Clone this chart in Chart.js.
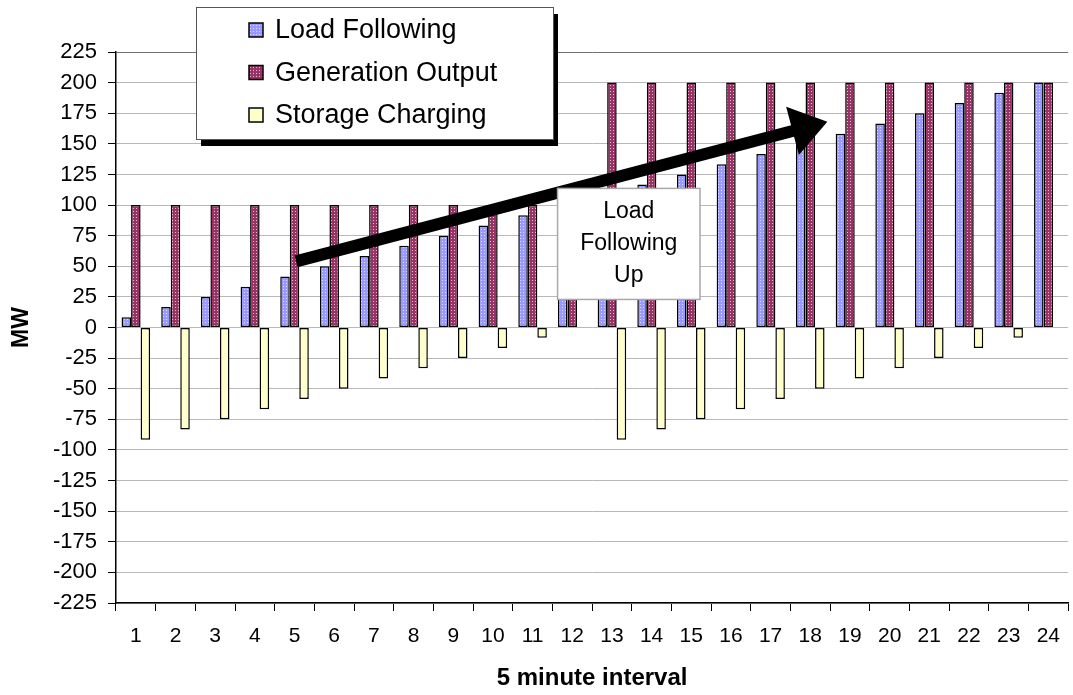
<!DOCTYPE html>
<html>
<head>
<meta charset="utf-8">
<script src="https://cdn.jsdelivr.net/npm/chart.js@4.4.1/dist/chart.umd.min.js"></script>
<style>
  html, body { margin: 0; padding: 0; background: #fff; }
  #wrap { width: 1073px; height: 695px; position: relative; }
</style>
</head>
<body>
<div id="wrap"><canvas id="chart" width="1073" height="695"></canvas></div>
<script>
const intervals = ['1','2','3','4','5','6','7','8','9','10','11','12','13','14','15','16','17','18','19','20','21','22','23','24']
const loadFollowing = [8.3, 16.7, 25, 33.3, 41.7, 50, 58.3, 66.7, 75, 83.3, 91.7, 100, 108.3, 116.7, 125, 133.3, 141.7, 150, 158.3, 166.7, 175, 183.3, 191.7, 200]
const generationOutput = [100, 100, 100, 100, 100, 100, 100, 100, 100, 100, 100, 100, 200, 200, 200, 200, 200, 200, 200, 200, 200, 200, 200, 200]
const storageCharging = [-91.7, -83.3, -75, -66.7, -58.3, -50, -41.7, -33.3, -25, -16.7, -8.3, 0, -91.7, -83.3, -75, -66.7, -58.3, -50, -41.7, -33.3, -25, -16.7, -8.3, 0]

// callout arrow and text box, in data units (category index, MW)
const arrowFrom = { x: 4.04, y: 54 }
const arrowTo = { x: 17.43, y: 168 }
const noteBox = { x1: 10.63, x2: 14.22, top: 113.6, bottom: 22.9 }
const noteLines = ['Load', 'Following', 'Up']

const FONT = "'Liberation Sans', Arial, sans-serif"

const ctx = document.getElementById('chart').getContext('2d')

function dotted(base, dot) {
  const c = document.createElement('canvas')
  c.width = 3
  c.height = 3
  const g = c.getContext('2d')
  g.fillStyle = base
  g.fillRect(0, 0, 3, 3)
  g.fillStyle = dot
  g.fillRect(1, 1, 1, 1)
  return ctx.createPattern(c, 'repeat')
}

const bluePattern = dotted('#9999ff', '#dcdcff')
const redPattern = dotted('#993366', '#e8b8d0')

const overlays = {
  id: 'overlays',
  afterDatasetsDraw(chart) {
    const g = chart.ctx
    const xs = chart.scales.x
    const ys = chart.scales.y

    // arrow
    const x0 = xs.getPixelForValue(arrowFrom.x), y0 = ys.getPixelForValue(arrowFrom.y)
    const x1 = xs.getPixelForValue(arrowTo.x), y1 = ys.getPixelForValue(arrowTo.y)
    const len = Math.hypot(x1 - x0, y1 - y0)
    const ux = (x1 - x0) / len, uy = (y1 - y0) / len
    const headLen = 36, headHalf = 25
    const bx = x1 - ux * headLen, by = y1 - uy * headLen
    g.save()
    g.strokeStyle = '#000'
    g.lineWidth = 12
    g.beginPath()
    g.moveTo(x0, y0)
    g.lineTo(bx + ux * 2, by + uy * 2)
    g.stroke()
    g.fillStyle = '#000'
    g.beginPath()
    g.moveTo(x1, y1)
    g.lineTo(bx - uy * headHalf, by + ux * headHalf)
    g.lineTo(bx + uy * headHalf, by - ux * headHalf)
    g.closePath()
    g.fill()

    // note box
    const lx = xs.getPixelForValue(noteBox.x1), rx = xs.getPixelForValue(noteBox.x2)
    const ty = ys.getPixelForValue(noteBox.top), byy = ys.getPixelForValue(noteBox.bottom)
    g.fillStyle = '#fff'
    g.fillRect(lx, ty, rx - lx, byy - ty)
    g.strokeStyle = '#a8a8a8'
    g.lineWidth = 1.5
    g.strokeRect(lx, ty, rx - lx, byy - ty)
    g.fillStyle = '#000'
    g.font = '23px ' + FONT
    g.textAlign = 'center'
    g.textBaseline = 'middle'
    const cx = (lx + rx) / 2
    const lineH = 32
    const startY = (ty + byy) / 2 - lineH * (noteLines.length - 1) / 2
    noteLines.forEach((t, i) => g.fillText(t, cx, startY + i * lineH))
    g.restore()
  },
  afterDraw(chart) {
    const g = chart.ctx
    const box = { x: 196, y: 7, w: 357, h: 132 }
    g.save()
    g.fillStyle = '#000'
    g.fillRect(box.x + 5, box.y + 7, box.w, box.h)
    g.fillStyle = '#fff'
    g.fillRect(box.x, box.y, box.w, box.h)
    g.strokeStyle = '#555'
    g.lineWidth = 1
    g.strokeRect(box.x + 0.5, box.y + 0.5, box.w, box.h)
    g.font = '27px ' + FONT
    g.textBaseline = 'middle'
    g.textAlign = 'left'
    chart.data.datasets.forEach((ds, i) => {
      const yc = 30 + i * 42.5
      g.fillStyle = ds.backgroundColor
      g.fillRect(249, yc - 7, 14, 14)
      g.strokeStyle = '#000'
      g.lineWidth = 1.5
      g.strokeRect(249, yc - 7, 14, 14)
      g.fillStyle = '#000'
      g.fillText(ds.label, 275, yc + 1)
    })
    g.restore()
  }
}

Chart.defaults.color = '#000'
Chart.defaults.font.family = FONT

const myChart = new Chart(ctx, {
  type: 'bar',
  data: {
    labels: intervals,
    datasets: [
      {
        label: 'Load Following',
        data: loadFollowing,
        backgroundColor: bluePattern,
        borderColor: '#000',
        borderWidth: 1.5,
        borderSkipped: false
      },
      {
        label: 'Generation Output',
        data: generationOutput,
        backgroundColor: redPattern,
        borderColor: '#000',
        borderWidth: 1.5,
        borderSkipped: false
      },
      {
        label: 'Storage Charging',
        data: storageCharging,
        backgroundColor: '#ffffcc',
        borderColor: '#000',
        borderWidth: 1.5,
        borderSkipped: false
      }
    ]
  },
  options: {
    responsive: false,
    animation: false,
    devicePixelRatio: 1,
    categoryPercentage: 0.72,
    barPercentage: 1.0,
    layout: { padding: { top: 52, right: 0, bottom: 0, left: 0 } },
    plugins: {
      legend: { display: false },
      tooltip: { enabled: false }
    },
    scales: {
      x: {
        afterFit: (s) => { s.height = 92 },
        grid: {
          offset: true,
          drawOnChartArea: false,
          tickLength: 8,
          color: '#000',
          tickColor: '#000'
        },
        border: { color: '#000', width: 1.5 },
        ticks: { font: { size: 21 }, padding: 13, maxRotation: 0, autoSkip: false },
        title: {
          display: true,
          text: '5 minute interval',
          font: { size: 24, weight: 'bold' },
          padding: { top: 0, bottom: 2 }
        }
      },
      y: {
        min: -225,
        max: 225,
        afterFit: (s) => { s.width = 116 },
        ticks: { stepSize: 25, font: { size: 22 }, padding: 11 },
        grid: {
          color: (c) => (c.tick && c.tick.value === 225 ? '#707070' : '#b8b8b8'),
          tickColor: '#000',
          tickLength: 8
        },
        border: { color: '#000', width: 1.5 },
        title: {
          display: true,
          text: 'MW',
          font: { size: 23, weight: 'bold' },
          padding: { top: 8, bottom: 0 }
        }
      }
    }
  },
  plugins: [overlays]
})
</script>
</body>
</html>
